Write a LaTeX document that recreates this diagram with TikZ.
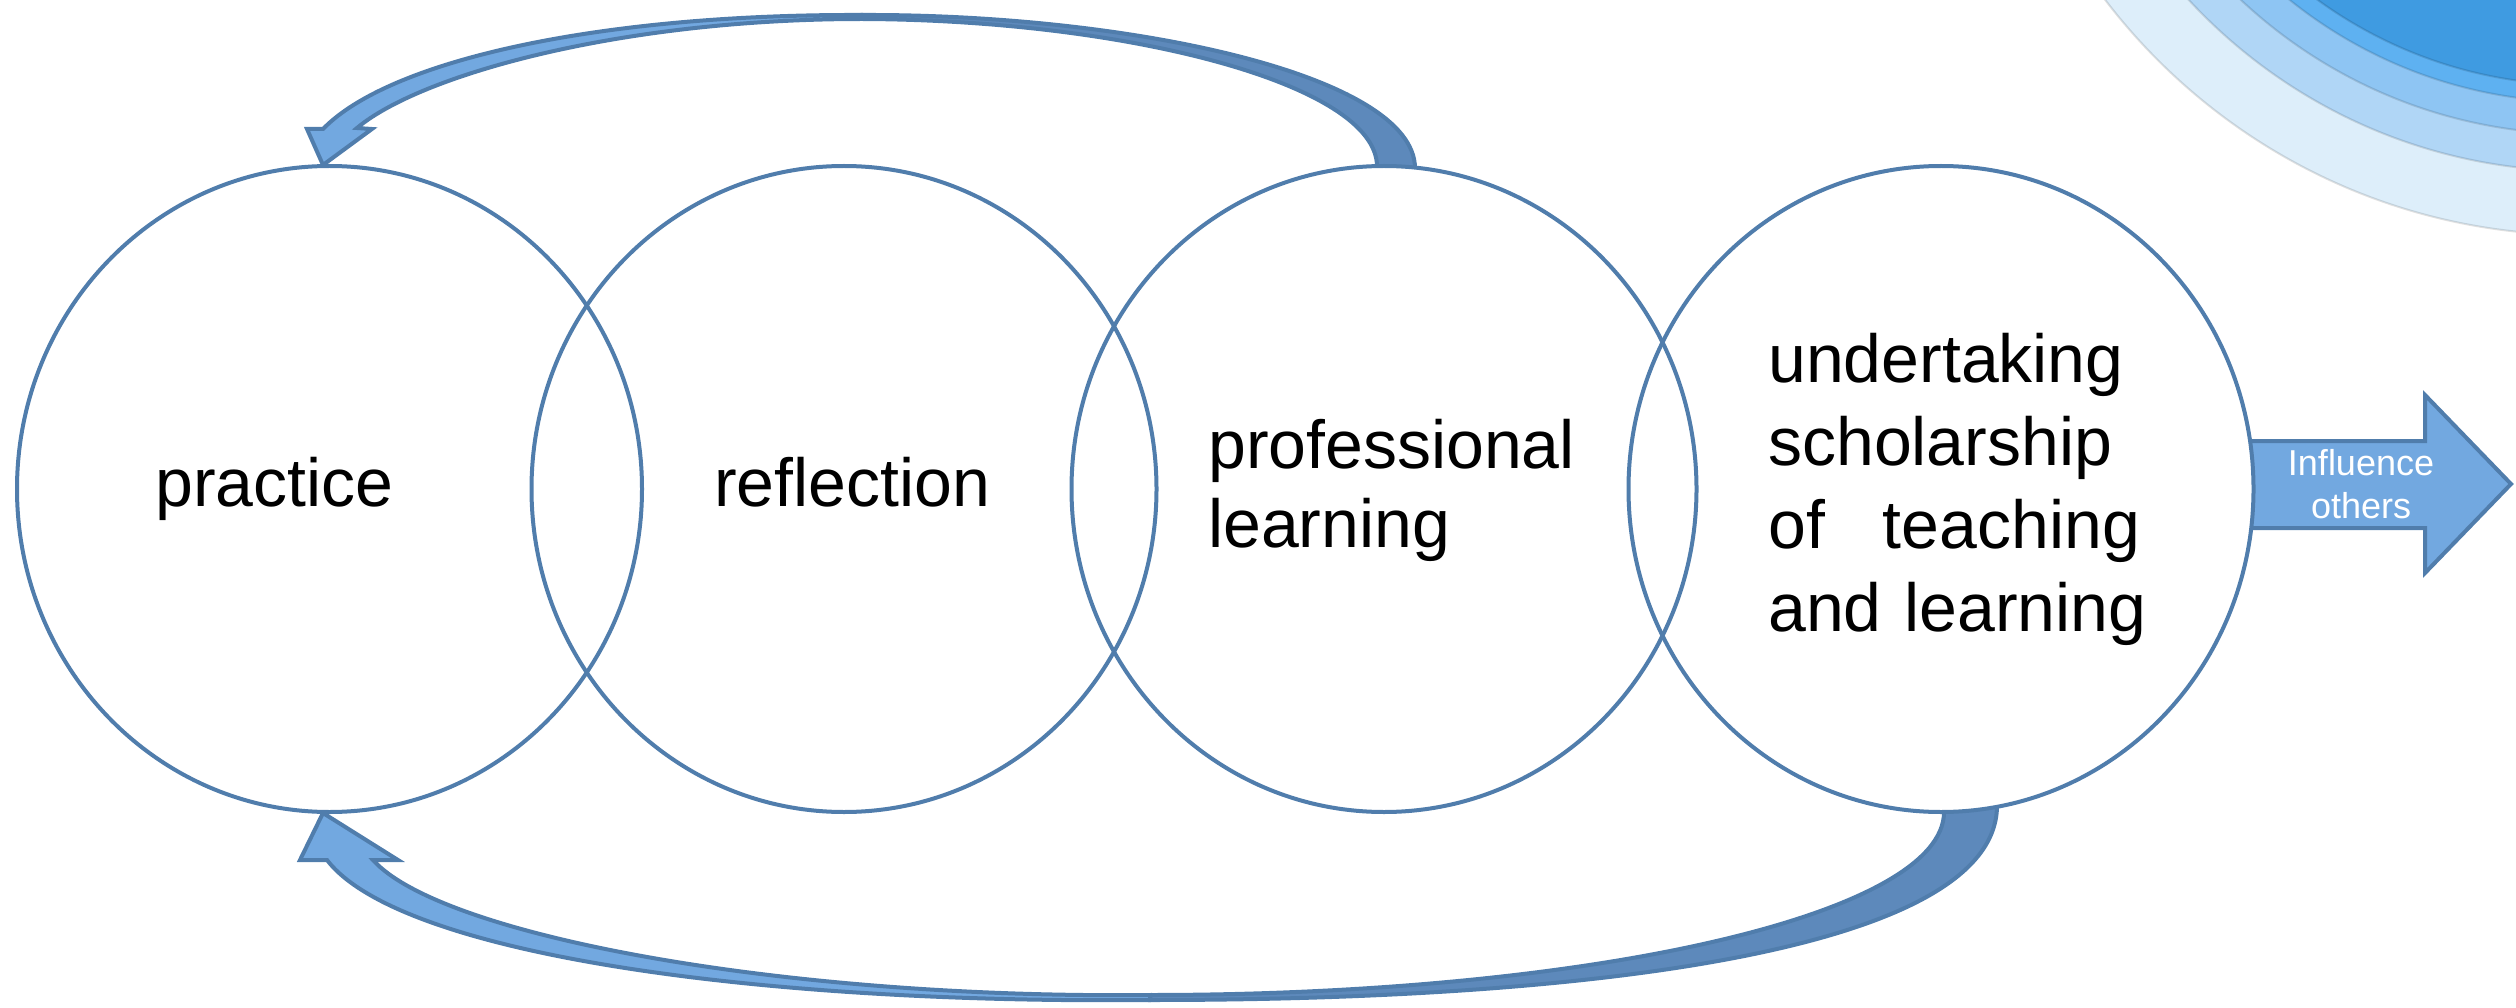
\documentclass[tikz,border=0pt]{standalone}
\usepackage{fontspec}
\setmainfont{Liberation Sans}
\usetikzlibrary{shapes.geometric}

\definecolor{edgeblue}{RGB}{80,125,172}
\definecolor{frontblue}{RGB}{114,168,224}
\definecolor{backblue}{RGB}{93,137,187}
\definecolor{ringA}{RGB}{221,238,250}
\definecolor{ringB}{RGB}{176,214,246}
\definecolor{ringC}{RGB}{142,197,243}
\definecolor{ringD}{RGB}{94,177,241}
\definecolor{ringE}{RGB}{63,155,225}

\begin{document}
\begin{tikzpicture}[x=1pt,y=-1pt,
  bandline/.style={draw=edgeblue,line width=4pt,line join=miter},
  frontband/.style={bandline,fill=frontblue},
  backband/.style={bandline,fill=backblue},
  stagecircle/.style={ellipse,fill=white,minimum width=625pt,minimum height=646pt,inner sep=0pt},
  stagering/.style={draw=edgeblue,line width=4pt},
  stagetext/.style={anchor=base west,inner sep=0pt,font=\fontsize{68}{80}\selectfont},
  ringedge/.style={draw=black,draw opacity=0.12,line width=2pt}]

\useasboundingbox (0,0) rectangle (2516,1008);

% concentric rings in the top right corner
\begin{scope}
  \clip (0,0) rectangle (2516,1008);
  \filldraw[fill=ringA,ringedge] (2580,-362) circle [radius=597];
  \filldraw[fill=ringB,ringedge] (2580,-362) circle [radius=533];
  \filldraw[fill=ringC,ringedge] (2580,-362) circle [radius=496];
  \filldraw[fill=ringD,ringedge] (2580,-362) circle [radius=464];
  \filldraw[fill=ringE,ringedge] (2580,-362) circle [radius=447];
\end{scope}

% upper return arrow: back face rising from the third circle
\filldraw[backband] (1415,168) .. controls (1414,75) and (1130,14) .. (862,15)
  -- (862,19) .. controls (1130,20) and (1376,85) .. (1377,166) -- cycle;
% upper return arrow: front face with head on the first circle
\filldraw[frontband] (862,15) .. controls (600,14) and (390,60) .. (323,129)
  -- (307,129) -- (323,165) -- (372,129) -- (357,128)
  .. controls (420,75) and (620,19) .. (862,19) -- cycle;

% lower return arrow: back face leaving the fourth circle
\filldraw[backband] (1997,806) .. controls (1996,945) and (1618,1000) .. (1150,1000)
  -- (1150,995) .. controls (1589,995) and (1944,915) .. (1944,812) -- cycle;
% lower return arrow: front face with head on the first circle
\filldraw[frontband] (1150,1000) .. controls (760,1004) and (400,955) .. (327,860)
  -- (300,860) -- (323,813) -- (398,860) -- (373,860)
  .. controls (440,935) and (780,999) .. (1150,995) -- cycle;

% outgoing arrow
\filldraw[frontband] (2240,441) -- (2425,441) -- (2425,395) -- (2511,484)
  -- (2425,573) -- (2425,528) -- (2240,528) -- cycle;
\node[anchor=base,inner sep=0pt,text=white,align=center,text width=200pt,
      font=\fontsize{36}{43}\selectfont] (inf) at (2361,475) {Influence\\others};

% the four stages
\node[stagecircle] (c1) at (329.5,489) {};
\node[stagecircle] (c2) at (844,489) {};
\node[stagecircle] (c3) at (1384,489) {};
\node[stagecircle] (c4) at (1941,489) {};
\foreach \c in {c1,c2,c3,c4}
  \draw[stagering] (\c.center) ellipse [x radius=312.5, y radius=323];

\node[stagetext] (t1) at (155,506) {practice};
\node[stagetext] (t2) at (714,506) {reflection};
\node[stagetext,text width=420pt,align=left,font=\fontsize{68}{79}\selectfont]
  (t3) at (1208,468) {professional\\learning};
\node[stagetext,text width=390pt,align=left,font=\fontsize{68}{83}\selectfont]
  (t4) at (1768,382) {undertaking\\scholarship\\of\hspace{58pt}teaching\\and learning};

\end{tikzpicture}
\end{document}
